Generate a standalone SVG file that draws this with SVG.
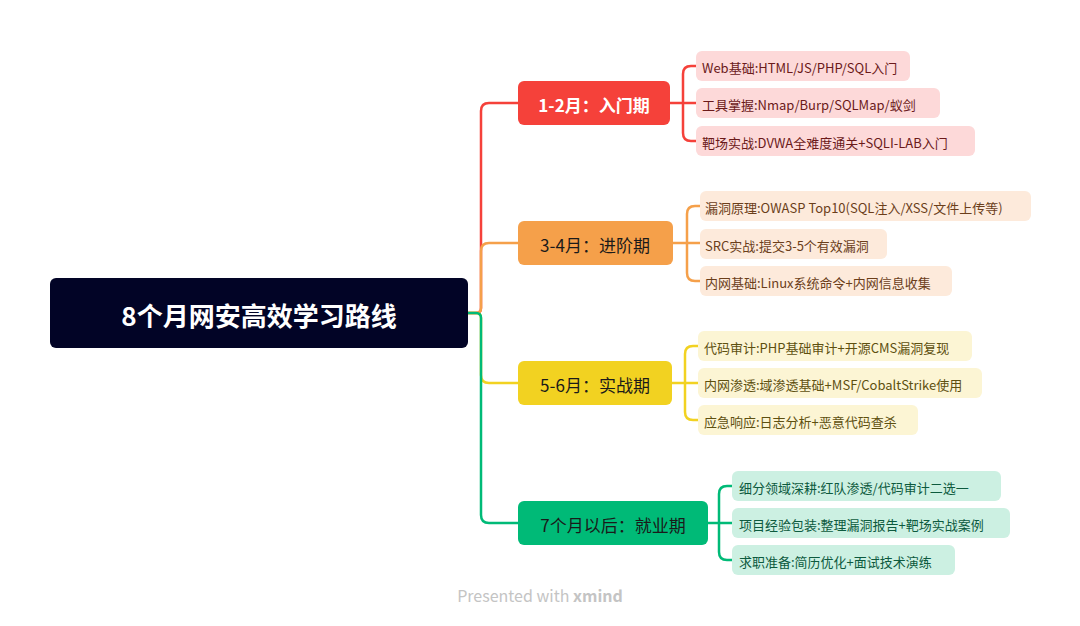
<svg xmlns="http://www.w3.org/2000/svg" width="1080" height="626" viewBox="0 0 1080 626">
<style>
text{font-family:"Noto Sans CJK SC","Noto Sans",sans-serif}
.l{font-size:13px;dominant-baseline:central}
.b{font-size:17px;dominant-baseline:central;text-anchor:middle}
.c path{fill:none;stroke-width:2.5}
.r{stroke:#F5413A}.o{stroke:#F5A04A}.y{stroke:#F2D221}.g{stroke:#00BA77}
</style>
<rect width="1080" height="626" fill="#fff"/>
<g class="c">
<path class="r" d="M468,313 H476 Q481,313 481,308 V111 Q481,103 489,103 H518"/>
<path class="o" d="M468,313 H476 Q481,313 481,308 V251 Q481,243 489,243 H518"/>
<path class="y" d="M468,313 H476 Q481,313 481,318 V375 Q481,383 489,383 H518"/>
<path class="g" d="M468,313 H476 Q481,313 481,318 V515 Q481,523 489,523 H518"/>
<path class="r" d="M670,103 H696 M696,66 H691 Q683,66 683,74 V133 Q683,141 691,141 H696"/>
<path class="o" d="M673,243 H700 M700,206 H695 Q687,206 687,214 V273 Q687,281 695,281 H700"/>
<path class="y" d="M672,383 H698 M698,346 H693 Q685,346 685,354 V412 Q685,420 693,420 H698"/>
<path class="g" d="M708,523 H732 M732,486 H727 Q719,486 719,494 V552 Q719,560 727,560 H732"/>
</g>
<g id="root"><rect x="50" y="278" width="418" height="70" rx="6" fill="#020426"/><text x="259" y="314" fill="#fff" font-size="26" font-weight="bold" text-anchor="middle" dominant-baseline="central">8个月网安高效学习路线</text></g>
<g id="b1"><rect x="518" y="81" width="152" height="44" rx="6" fill="#F5413A"/><text class="b" x="594" y="104" fill="#fff" font-weight="bold">1-2月：入门期</text></g>
<g id="b2"><rect x="518" y="221" width="155" height="44" rx="6" fill="#F5A04A"/><text class="b" x="595" y="244" fill="#1a1a1a">3-4月：进阶期</text></g>
<g id="b3"><rect x="518" y="361" width="154" height="44" rx="6" fill="#F2D221"/><text class="b" x="595" y="384" fill="#1a1a1a">5-6月：实战期</text></g>
<g id="b4"><rect x="518" y="501" width="190" height="44" rx="6" fill="#00BA77"/><text class="b" x="613" y="524" fill="#1a1a1a">7个月以后：就业期</text></g>
<g id="l1"><rect x="696" y="51" width="214" height="30" rx="6" fill="#FDD9D9"/><text class="l" x="702" y="67" fill="#6b1a1a">Web基础:HTML/JS/PHP/SQL入门</text></g>
<g id="l2"><rect x="696" y="88" width="244" height="30" rx="6" fill="#FDD9D9"/><text class="l" x="702" y="104" fill="#6b1a1a">工具掌握:Nmap/Burp/SQLMap/蚁剑</text></g>
<g id="l3"><rect x="696" y="126" width="279" height="30" rx="6" fill="#FDD9D9"/><text class="l" x="702" y="142" fill="#6b1a1a">靶场实战:DVWA全难度通关+SQLI-LAB入门</text></g>
<g id="l4"><rect x="700" y="191" width="331" height="30" rx="6" fill="#FDEADB"/><text class="l" x="705" y="207" fill="#6b3e1a">漏洞原理:OWASP Top10(SQL注入/XSS/文件上传等)</text></g>
<g id="l5"><rect x="700" y="229" width="187" height="30" rx="6" fill="#FDEADB"/><text class="l" x="705" y="245" fill="#6b3e1a">SRC实战:提交3-5个有效漏洞</text></g>
<g id="l6"><rect x="700" y="266" width="252" height="30" rx="6" fill="#FDEADB"/><text class="l" x="705" y="282" fill="#6b3e1a">内网基础:Linux系统命令+内网信息收集</text></g>
<g id="l7"><rect x="698" y="331" width="274" height="30" rx="6" fill="#FCF5D4"/><text class="l" x="704" y="347" fill="#5e5010">代码审计:PHP基础审计+开源CMS漏洞复现</text></g>
<g id="l8"><rect x="698" y="368" width="284" height="30" rx="6" fill="#FCF5D4"/><text class="l" x="704" y="384" fill="#5e5010">内网渗透:域渗透基础+MSF/CobaltStrike使用</text></g>
<g id="l9"><rect x="698" y="405" width="220" height="30" rx="6" fill="#FCF5D4"/><text class="l" x="704" y="421" fill="#5e5010">应急响应:日志分析+恶意代码查杀</text></g>
<g id="l10"><rect x="732" y="471" width="269" height="30" rx="6" fill="#CCF0E2"/><text class="l" x="739" y="487" fill="#0d5a3e">细分领域深耕:红队渗透/代码审计二选一</text></g>
<g id="l11"><rect x="732" y="508" width="278" height="30" rx="6" fill="#CCF0E2"/><text class="l" x="739" y="524" fill="#0d5a3e">项目经验包装:整理漏洞报告+靶场实战案例</text></g>
<g id="l12"><rect x="732" y="545" width="223" height="30" rx="6" fill="#CCF0E2"/><text class="l" x="739" y="561" fill="#0d5a3e">求职准备:简历优化+面试技术演练</text></g>
<text x="540" y="595" font-size="16" fill="#c4c4c4" text-anchor="middle" dominant-baseline="central">Presented with <tspan font-weight="bold">xmind</tspan></text>
</svg>
